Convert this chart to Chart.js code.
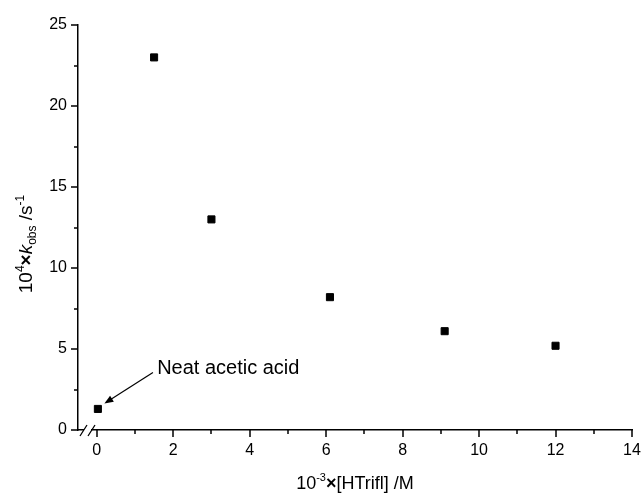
<!DOCTYPE html>
<html>
<head>
<meta charset="utf-8">
<script src="https://cdn.jsdelivr.net/npm/chart.js@4.4.1/dist/chart.umd.min.js"></script>
<style>
  html, body { margin: 0; padding: 0; background: #fff; }
  #wrap { width: 642px; height: 497px; }
</style>
</head>
<body>
<div id="wrap"><canvas id="chart"></canvas></div>
<script>
// data
const concentrations = [0.03, 1.5, 3.0, 6.1, 9.1, 12.0]
const rateConstants = [1.3, 23.0, 13.0, 8.2, 6.1, 5.2]

const xMajorTicks = [0, 2, 4, 6, 8, 10, 12, 14]
const xMinorTicks = [1, 3, 5, 7, 9, 11, 13]
const yMajorTicks = [0, 5, 10, 15, 20, 25]
const yMinorTicks = [2.5, 7.5, 12.5, 17.5, 22.5]

// annotation, in data units
const noteText = 'Neat acetic acid'
const noteAt = [1.58, 3.77]
const arrowFrom = [1.47, 3.55]
const arrowTo = [0.2, 1.63]

const FONT = "'Liberation Sans', Arial, sans-serif"

function drawRuns(ctx, runs, cx, baseline) {
  let total = 0
  runs.forEach(r => {
    ctx.font = r.font
    r.w = ctx.measureText(r.text).width
    total += r.w
  })
  let px = cx - total / 2
  runs.forEach(r => {
    ctx.font = r.font
    ctx.fillText(r.text, px, baseline + (r.dy || 0))
    px += r.w
  })
}

const decorations = {
  id: 'decorations',
  afterDraw(chart) {
    const { ctx, chartArea } = chart
    const xs = chart.scales.x
    const ys = chart.scales.y
    const { left, right, bottom } = chartArea

    ctx.save()
    ctx.strokeStyle = '#000'
    ctx.lineWidth = 1.5

    // tick marks, outward
    ctx.beginPath()
    xMajorTicks.forEach(v => {
      const p = Math.round(xs.getPixelForValue(v))
      ctx.moveTo(p, bottom); ctx.lineTo(p, bottom + 7)
    })
    xMinorTicks.forEach(v => {
      const p = Math.round(xs.getPixelForValue(v))
      ctx.moveTo(p, bottom); ctx.lineTo(p, bottom + 4)
    })
    yMajorTicks.forEach(v => {
      const p = Math.round(ys.getPixelForValue(v))
      ctx.moveTo(left, p); ctx.lineTo(left - 7, p)
    })
    yMinorTicks.forEach(v => {
      const p = Math.round(ys.getPixelForValue(v))
      ctx.moveTo(left, p); ctx.lineTo(left - 4, p)
    })
    ctx.stroke()

    // axis break
    ctx.fillStyle = '#fff'
    ctx.fillRect(left + 6, bottom - 2, 7, 4)
    ctx.beginPath()
    ctx.lineWidth = 1.3
    ctx.moveTo(left + 2, bottom + 6); ctx.lineTo(left + 9, bottom - 5)
    ctx.moveTo(left + 10, bottom + 6); ctx.lineTo(left + 17, bottom - 5)
    ctx.stroke()

    // annotation
    ctx.fillStyle = '#000'
    ctx.font = '20px ' + FONT
    ctx.textBaseline = 'middle'
    ctx.textAlign = 'left'
    ctx.fillText(noteText, xs.getPixelForValue(noteAt[0]), ys.getPixelForValue(noteAt[1]))

    const ax = xs.getPixelForValue(arrowFrom[0]), ay = ys.getPixelForValue(arrowFrom[1])
    const bx = xs.getPixelForValue(arrowTo[0]), by = ys.getPixelForValue(arrowTo[1])
    const ang = Math.atan2(by - ay, bx - ax)
    ctx.lineWidth = 1.2
    ctx.beginPath()
    ctx.moveTo(ax, ay)
    ctx.lineTo(bx - 6 * Math.cos(ang), by - 6 * Math.sin(ang))
    ctx.stroke()
    ctx.beginPath()
    ctx.moveTo(bx, by)
    ctx.lineTo(bx - 9 * Math.cos(ang) + 3.5 * Math.sin(ang), by - 9 * Math.sin(ang) - 3.5 * Math.cos(ang))
    ctx.lineTo(bx - 9 * Math.cos(ang) - 3.5 * Math.sin(ang), by - 9 * Math.sin(ang) + 3.5 * Math.cos(ang))
    ctx.closePath()
    ctx.fill()

    // axis titles with super/subscripts
    ctx.textBaseline = 'alphabetic'
    drawRuns(ctx, [
      { text: '10', font: '18px ' + FONT },
      { text: '-3', font: '11px ' + FONT, dy: -8 },
      { text: '\u00d7', font: 'bold 18px ' + FONT },
      { text: '[HTrifl] /M', font: '18px ' + FONT }
    ], (left + right) / 2, 489)

    ctx.translate(25, 244)
    ctx.rotate(-Math.PI / 2)
    drawRuns(ctx, [
      { text: '10', font: '19px ' + FONT },
      { text: '4', font: '12px ' + FONT, dy: -8 },
      { text: '\u00d7', font: 'bold 19px ' + FONT },
      { text: 'k', font: 'italic 19px ' + FONT },
      { text: 'obs', font: '12px ' + FONT, dy: 4 },
      { text: ' /s', font: '19px ' + FONT },
      { text: '-1', font: '12px ' + FONT, dy: -8 }
    ], 0, 7)
    ctx.restore()
  }
}

const points = concentrations.map((c, i) => ({ x: c, y: rateConstants[i] }))

new Chart(document.getElementById('chart'), {
  type: 'scatter',
  data: {
    datasets: [{
      data: points,
      pointStyle: 'rect',
      pointRadius: 5,
      pointHoverRadius: 5,
      backgroundColor: '#000',
      borderColor: '#000',
      borderWidth: 1
    }]
  },
  options: {
    responsive: true,
    maintainAspectRatio: false,
    animation: false,
    events: [],
    layout: { padding: { top: 25, right: 10, bottom: 0, left: 0 } },
    plugins: {
      legend: { display: false },
      tooltip: { enabled: false }
    },
    scales: {
      x: {
        type: 'linear',
        min: -0.49,
        max: 14,
        afterBuildTicks: scale => { scale.ticks = xMajorTicks.map(v => ({ value: v })) },
        afterFit: scale => {
          scale.height = 67
          scale.paddingLeft = 0
          scale.paddingRight = 0
        },
        grid: { display: false, drawTicks: false },
        border: { display: true, color: '#000', width: 1.5 },
        ticks: {
          color: '#000',
          padding: 11,
          maxRotation: 0,
          autoSkip: false,
          font: { family: FONT, size: 16 }
        }
      },
      y: {
        type: 'linear',
        min: 0,
        max: 25,
        afterBuildTicks: scale => { scale.ticks = yMajorTicks.map(v => ({ value: v })) },
        afterFit: scale => {
          scale.width = 78
          scale.paddingTop = 0
          scale.paddingBottom = 0
        },
        grid: { display: false, drawTicks: false },
        border: { display: true, color: '#000', width: 1.5 },
        ticks: {
          color: '#000',
          padding: 11,
          autoSkip: false,
          font: { family: FONT, size: 16 }
        }
      }
    }
  },
  plugins: [decorations]
})
</script>
</body>
</html>
